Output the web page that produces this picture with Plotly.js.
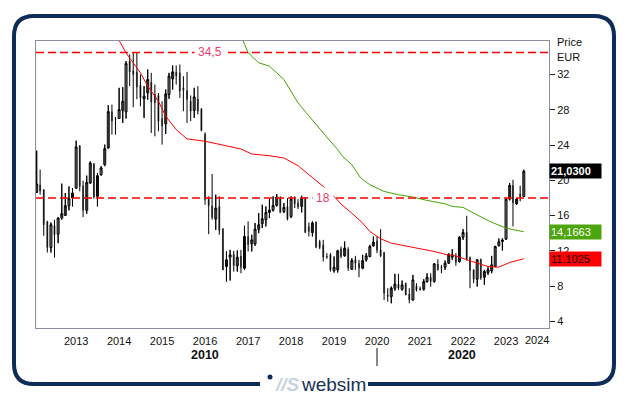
<!DOCTYPE html>
<html><head><meta charset="utf-8">
<script src="https://cdn.plot.ly/plotly-3.0.1.min.js"></script>
<style>html,body{margin:0;padding:0;background:#fff;}#chart{width:629px;height:395px;}</style>
</head><body><div id="chart"></div>
<script>
// ---- data (monthly candles, first month Feb 2012) ----
const startYear = 2012, startMonth = 2;
const opens  = [18.63,19.50,18.93,15.34,12.38,14.84,13.90,15.72,16.02,17.12,17.99,19.12,23.93,19.39,16.59,19.69,21.89,18.18,20.64,21.78,23.67,27.80,26.96,27.00,27.95,27.76,33.52,32.46,32.30,30.79,29.24,29.92,31.13,29.80,29.62,27.00,26.40,29.73,31.51,32.30,32.19,30.49,30.18,28.97,27.91,29.24,28.10,25.26,17.87,17.12,15.60,17.04,14.50,10.22,11.28,11.62,10.30,11.43,10.03,13.63,12.80,12.80,14.46,15.07,15.53,16.36,16.62,17.15,17.99,16.47,17.04,15.90,17.91,17.42,17.04,17.99,14.77,14.08,15.26,13.06,12.68,11.43,11.55,9.77,9.84,12.23,11.43,12.19,9.92,10.98,10.60,10.03,10.98,11.36,12.57,13.14,12.11,11.81,7.00,6.81,7.76,8.21,7.65,8.33,7.12,6.43,8.02,7.76,7.65,8.52,9.01,8.52,10.52,10.15,10.15,10.60,11.28,11.43,10.79,13.56,14.12,11.28,9.84,8.78,11.05,9.01,9.54,9.73,10.22,12.61,13.06,13.33,17.87,19.43,17.34,18.48,18.18];
const highs  = [23.37,21.21,19.00,15.41,15.22,15.53,15.79,19.62,18.56,19.31,19.12,24.50,24.00,19.96,20.53,22.15,21.96,20.83,21.60,24.05,28.52,28.59,27.19,30.49,30.56,33.52,34.28,34.46,34.46,32.00,30.68,32.57,32.19,30.87,29.92,28.97,30.30,32.19,33.03,33.03,33.14,31.81,32.30,29.62,30.49,30.68,28.20,25.45,18.18,20.72,18.37,18.18,14.58,11.93,12.11,12.00,12.04,12.11,14.84,15.34,13.82,15.15,16.28,17.23,17.04,17.87,18.18,18.44,18.18,17.42,17.99,18.18,18.18,17.87,18.25,18.10,15.22,15.34,15.34,13.25,13.25,11.74,11.74,11.36,12.11,12.49,13.06,12.42,11.17,11.43,10.98,11.55,11.74,12.68,13.63,13.63,14.46,11.89,7.76,7.95,9.39,9.39,8.63,8.40,7.76,9.27,8.33,7.95,8.78,9.46,9.46,10.60,11.05,10.41,10.90,11.74,12.19,11.74,13.63,14.46,15.98,11.36,9.92,11.05,11.13,9.84,10.15,11.43,12.57,13.40,13.44,17.95,19.69,20.07,17.99,19.39,21.20];
const lows   = [18.56,18.37,13.71,11.81,11.81,11.24,12.87,15.53,15.98,16.59,17.04,19.05,18.75,15.83,16.21,19.62,17.91,17.04,20.53,21.60,23.59,25.18,25.18,26.96,26.51,27.00,30.68,28.29,29.20,28.40,27.08,29.16,25.37,24.99,25.56,24.05,25.26,29.24,30.30,30.87,29.35,27.84,26.51,26.70,27.08,27.46,25.56,17.23,13.89,15.53,14.39,13.82,9.80,8.52,8.63,9.65,9.65,9.46,9.84,11.93,11.93,12.57,14.01,14.58,14.77,15.72,16.47,17.04,16.28,16.28,15.45,15.72,16.85,16.74,16.36,14.01,13.63,13.63,12.31,12.19,10.79,11.09,9.65,9.54,9.54,11.17,11.36,9.73,9.84,9.84,9.01,9.92,10.79,11.28,12.49,11.74,11.28,6.43,6.24,6.05,7.49,7.57,7.49,6.95,6.05,6.36,7.38,7.49,7.49,8.40,7.95,8.40,9.77,9.46,9.84,10.52,10.98,10.30,10.68,13.25,10.90,7.76,8.33,7.95,8.71,8.14,9.27,9.46,10.15,12.49,12.04,13.25,17.72,14.77,17.23,17.61,18.10];
const closes = [19.58,18.75,14.96,12.38,14.96,13.82,15.72,16.21,17.12,17.91,18.56,23.78,19.31,16.59,19.77,21.96,18.10,20.53,21.40,23.59,27.80,26.70,26.89,28.03,28.97,33.25,32.27,32.00,30.56,29.35,29.54,31.43,28.86,28.78,26.70,26.13,29.80,31.81,32.30,31.81,30.11,30.22,29.16,27.84,29.46,27.84,25.64,17.80,17.15,15.79,16.85,14.31,9.84,10.98,11.55,10.30,11.28,10.11,13.63,12.68,13.25,14.46,14.96,15.64,16.36,16.62,17.15,18.10,16.36,16.93,15.60,17.87,17.34,16.96,17.99,14.08,14.20,15.15,12.42,12.38,11.28,11.28,9.84,10.15,12.00,11.36,12.31,10.03,10.90,10.60,10.03,10.90,11.43,12.49,12.99,12.04,11.43,7.19,6.81,7.76,8.21,7.76,8.14,7.00,6.43,8.71,7.57,7.57,8.52,9.01,8.52,10.52,9.84,10.03,10.60,11.55,11.55,10.68,13.56,14.08,10.98,9.77,8.78,10.98,8.90,9.65,9.84,10.41,12.49,13.03,13.25,17.87,19.43,17.42,17.87,18.10,21.03];

// moving averages
const maRedDates = ['2013-12-01','2014-03-01','2014-07-01','2014-09-01','2014-12-01','2015-02-01','2015-05-01','2015-08-01','2016-01-01','2016-05-01','2016-09-01','2016-11-01','2017-02-01','2017-07-01','2017-11-01','2018-03-01','2018-06-01','2018-10-01','2019-01-01','2019-03-01','2019-06-01','2019-09-01','2019-11-01','2020-02-01','2020-05-01','2020-10-01','2021-02-01','2021-05-01','2021-08-01','2021-11-01','2022-03-01','2022-08-01','2022-11-01','2023-02-01','2023-06-01'];
const maRedVals  = [36.6,34.46,32.19,30.68,28.97,27.27,25.75,24.7,24.43,24.05,23.67,23.55,22.98,22.79,22.53,21.66,20.64,19.31,18.18,17.31,16.28,15.15,14.2,13.37,12.87,12.49,12.11,11.93,11.62,11.43,10.87,10.22,10.15,10.68,11.1025];
const maGreenDates = ['2016-10-01','2016-11-15','2017-01-01','2017-04-01','2017-07-01','2017-11-01','2018-03-01','2018-06-01','2018-10-01','2019-02-01','2019-03-15','2019-06-01','2019-08-15','2019-11-01','2020-03-01','2020-07-01','2020-11-01','2021-03-01','2021-08-01','2021-10-01','2022-01-01','2022-04-01','2022-08-15','2023-01-01','2023-06-01'];
const maGreenVals  = [37.2,35.98,34.46,33.33,32.95,31.43,28.78,27.27,25.37,23.48,22.7,21.77,20.26,19.5,18.74,18.36,18.1,17.72,17.33,17.04,16.93,16.28,15.34,14.58,14.1663];

const levels = [34.5, 18];
const levelLabels = ['34,5', '18'];
const yTicks = [4, 8, 12, 16, 20, 24, 28, 32];
const xTickYears = [2013,2014,2015,2016,2017,2018,2019,2020,2021,2022,2023,2024];
const lastValues = [21.03, 14.1663, 11.1025];
const lastLabels = ['21,0300', '14,1663', '11,1025'];

// ---- build dates ----
const dates = [];
for (let i = 0; i < opens.length; i++) {
  const m = startMonth - 1 + i;
  const y = startYear + Math.floor(m / 12);
  const mm = (m % 12) + 1;
  dates.push(y + '-' + String(mm).padStart(2, '0') + '-01');
}

// ---- pixel helpers for the plot box ----
const PL = 36, PR = 549, PT = 41, PB = 328;
const px = x => (x - PL) / (PR - PL);
const py = y => (PB - y) / (PB - PT);

const FONT = 'Liberation Sans, Arial, sans-serif';

const traces = [
  { type: 'ohlc', x: dates, open: opens, high: highs, low: lows, close: closes,
    tickwidth: 0, increasing: { line: { color: '#000', width: 1 } },
    decreasing: { line: { color: '#000', width: 1 } }, hoverinfo: 'skip' },
  { type: 'candlestick', x: dates, open: opens, high: highs, low: lows, close: closes,
    whiskerwidth: 0,
    increasing: { line: { color: '#000', width: 1 }, fillcolor: '#ffffff' },
    decreasing: { line: { color: '#666666', width: 0 }, fillcolor: '#676767' },
    hoverinfo: 'skip' },
  { type: 'scatter', mode: 'lines', x: maRedDates, y: maRedVals,
    line: { color: '#ff0000', width: 1 }, hoverinfo: 'skip' },
  { type: 'scatter', mode: 'lines', x: maGreenDates, y: maGreenVals,
    line: { color: '#44a500', width: 1 }, hoverinfo: 'skip' }
];

// frame
const Lf = 14, Rf = 614, Tf = 16, Bf = 384, r = 20;
const framePath = `M ${px(260)},${py(Bf)} L ${px(Lf + r)},${py(Bf)} Q ${px(Lf)},${py(Bf)} ${px(Lf)},${py(Bf - r)} L ${px(Lf)},${py(Tf + r)} Q ${px(Lf)},${py(Tf)} ${px(Lf + r)},${py(Tf)} L ${px(Rf - r)},${py(Tf)} Q ${px(Rf)},${py(Tf)} ${px(Rf)},${py(Tf + r)} L ${px(Rf)},${py(Bf - r)} Q ${px(Rf)},${py(Bf)} ${px(Rf - r)},${py(Bf)} L ${px(368)},${py(Bf)}`;

const shapes = [
  { type: 'line', xref: 'paper', yref: 'y', x0: 0, x1: 1, y0: levels[0], y1: levels[0],
    line: { color: '#ff0000', width: 1.4, dash: '8px,4px' }, layer: 'above' },
  { type: 'line', xref: 'paper', yref: 'y', x0: 0, x1: 1, y0: levels[1], y1: levels[1],
    line: { color: '#ff0000', width: 1.4, dash: '8px,4px' }, layer: 'above' },
  { type: 'path', xref: 'paper', yref: 'paper', path: framePath,
    line: { color: '#0e2c58', width: 4 }, fillcolor: 'rgba(0,0,0,0)' },
  { type: 'line', xref: 'paper', yref: 'paper', x0: px(377), x1: px(377), y0: py(348), y1: py(366),
    line: { color: '#111', width: 1 } },
  { type: 'circle', xref: 'paper', yref: 'paper', x0: px(267.5), x1: px(272.5), y0: py(374.5), y1: py(379.5),
    fillcolor: '#0e2c58', line: { width: 0 } }
];

const xt = xTickYears.map(y => y + '-01-01');
const xtt = xTickYears.map(y => y === 2024 ? '' : String(y));

function ann(o) {
  return Object.assign({ xref: 'paper', yref: 'paper', showarrow: false,
    xanchor: 'center', yanchor: 'middle' }, o);
}

const annotations = [
  ann({ x: px(210), y: levels[0], yref: 'y', text: levelLabels[0],
    bgcolor: '#ffffff', borderpad: 3, font: { family: FONT, size: 12, color: '#f2406a' } }),
  ann({ x: px(323), y: levels[1], yref: 'y', text: levelLabels[1],
    bgcolor: '#ffffff', borderpad: 3, font: { family: FONT, size: 12, color: '#f2406a' } }),
  ann({ x: px(555), y: py(42), xanchor: 'left', text: 'Price',
    font: { family: FONT, size: 11, color: '#111' } }),
  ann({ x: px(555), y: py(57), xanchor: 'left', text: 'EUR',
    font: { family: FONT, size: 11, color: '#111' } }),
  ann({ x: px(549), y: lastValues[0], yref: 'y', xanchor: 'left', text: '<b>' + lastLabels[0] + '</b>',
    bgcolor: '#000000', width: 49, height: 12, borderpad: 1, align: 'left',
    font: { family: FONT, size: 11, color: '#ffffff' } }),
  ann({ x: px(549), y: lastValues[1], yref: 'y', xanchor: 'left', text: lastLabels[1],
    bgcolor: '#4ca50b', width: 49, height: 12, borderpad: 1, align: 'left',
    font: { family: FONT, size: 11, color: '#ffffff' } }),
  ann({ x: px(549), y: lastValues[2], yref: 'y', xanchor: 'left', text: lastLabels[2],
    bgcolor: '#ff0000', width: 49, height: 12, borderpad: 1, align: 'left',
    font: { family: FONT, size: 11, color: '#1a0000' } }),
  ann({ x: px(537), y: py(340), text: '2024',
    font: { family: FONT, size: 11, color: '#111' } }),
  ann({ x: px(205), y: py(355), text: '<b>2010</b>',
    font: { family: FONT, size: 12.5, color: '#111' } }),
  ann({ x: px(462), y: py(355), text: '<b>2020</b>',
    font: { family: FONT, size: 12.5, color: '#111' } }),
  ann({ x: px(273), y: py(384), xanchor: 'left', text: '<b><i>//S</i></b>',
    font: { family: FONT, size: 19, color: '#c8d3e1' } }),
  ann({ x: px(299), y: py(384), xanchor: 'left', text: 'websim',
    font: { family: FONT, size: 19, color: '#1a3158' } })
];

const layout = {
  width: 629, height: 395,
  margin: { l: PL, r: 629 - PR, t: PT, b: 395 - PB, pad: 0 },
  paper_bgcolor: '#ffffff', plot_bgcolor: '#ffffff',
  showlegend: false,
  boxgap: 0.15,
  font: { family: FONT, size: 11, color: '#111' },
  xaxis: {
    type: 'date', range: ['2012-01-26', '2024-01-01'],
    tickmode: 'array', tickvals: xt, ticktext: xtt,
    ticks: 'outside', ticklen: 3, tickcolor: 'rgba(0,0,0,0)',
    showgrid: false, zeroline: false, showline: true, mirror: true,
    linecolor: '#8e8e9e', linewidth: 1,
    rangeslider: { visible: false }, fixedrange: true,
    tickfont: { family: FONT, size: 11, color: '#111' }
  },
  yaxis: {
    side: 'right', range: [3.25, 35.8],
    tickmode: 'array', tickvals: yTicks, ticktext: yTicks.map(String),
    ticks: 'outside', ticklen: 5, tickcolor: '#222',
    showgrid: false, zeroline: false, showline: true, mirror: true,
    linecolor: '#8e8e9e', linewidth: 1, fixedrange: true,
    tickfont: { family: FONT, size: 11, color: '#111' }
  },
  shapes: shapes,
  annotations: annotations
};

Plotly.newPlot('chart', traces, layout, { staticPlot: true, displayModeBar: false });
</script>
</body></html>
